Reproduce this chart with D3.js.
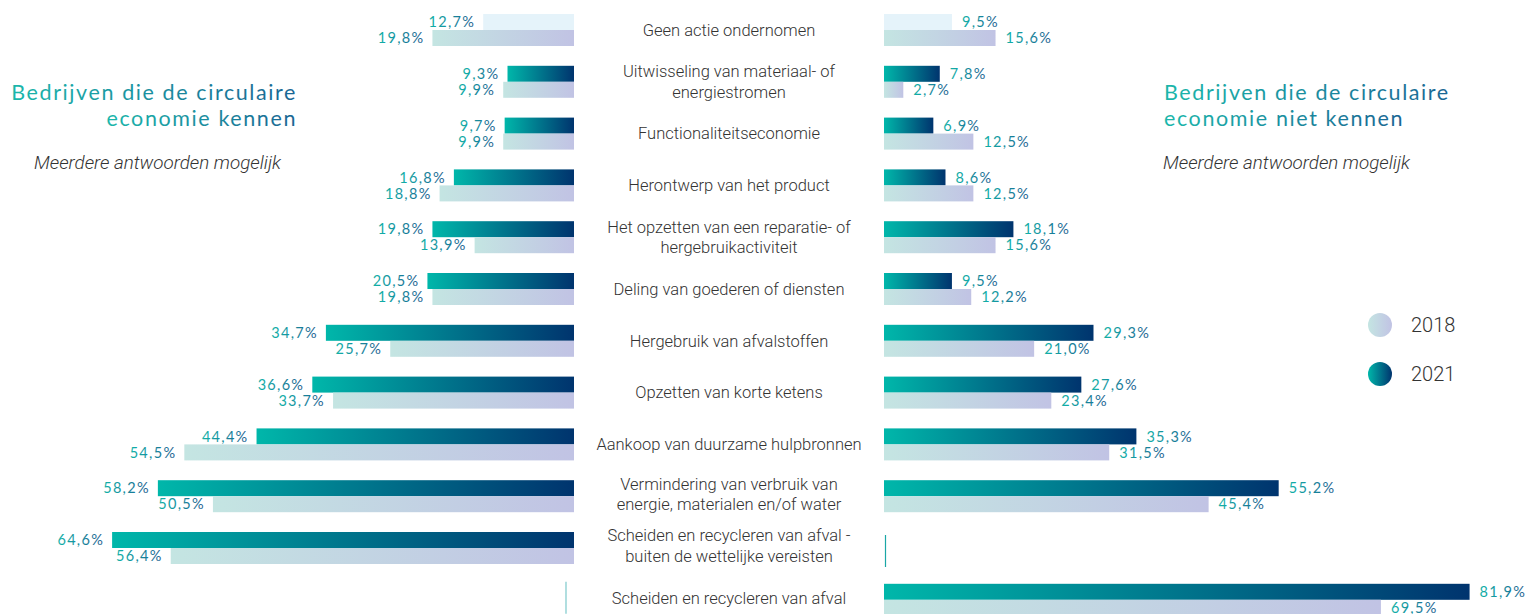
<!DOCTYPE html>
<html>
<head>
<meta charset="utf-8">
<script src="https://cdn.jsdelivr.net/npm/d3@7"></script>
<style>
  body { margin: 0; background: #fff; }
  svg { display: block; }
  .cat { font-family: Roboto, sans-serif; font-weight: 300; font-size: 16.5px; fill: #333; }
  .pct { font-family: Lato, sans-serif; font-size: 14.5px; letter-spacing: 1.3px; }
  .ttl { font-family: Lato, sans-serif; font-weight: 400; font-size: 21.5px; letter-spacing: 1.6px; }
  .sub { font-family: Roboto, sans-serif; font-weight: 300; font-style: italic; font-size: 18.8px; fill: #333; }
  .leg { font-family: Roboto, sans-serif; font-weight: 300; font-size: 20px; fill: #333; }
</style>
</head>
<body>
<svg id="chart"></svg>
<script>
const width = 1526
const height = 614

// data
const categories = [
  ["Geen actie ondernomen"],
  ["Uitwisseling van materiaal- of", "energiestromen"],
  ["Functionaliteitseconomie"],
  ["Herontwerp van het product"],
  ["Het opzetten van een reparatie- of", "hergebruikactiviteit"],
  ["Deling van goederen of diensten"],
  ["Hergebruik van afvalstoffen"],
  ["Opzetten van korte ketens"],
  ["Aankoop van duurzame hulpbronnen"],
  ["Vermindering van verbruik van", "energie, materialen en/of water"],
  ["Scheiden en recycleren van afval -", "buiten de wettelijke vereisten"],
  ["Scheiden en recycleren van afval"]
]
// kennen (links)
const left2021 = [12.7, 9.3, 9.7, 16.8, 19.8, 20.5, 34.7, 36.6, 44.4, 58.2, 64.6, null]
const left2018 = [19.8, 9.9, 9.9, 18.8, 13.9, 19.8, 25.7, 33.7, 54.5, 50.5, 56.4, null]
// niet kennen (rechts)
const right2021 = [9.5, 7.8, 6.9, 8.6, 18.1, 9.5, 29.3, 27.6, 35.3, 55.2, null, 81.9]
const right2018 = [15.6, 2.7, 12.5, 12.5, 15.6, 12.2, 21.0, 23.4, 31.5, 45.4, null, 69.5]
const years = ["2018", "2021"]

const svg = d3.select("#chart").attr("width", width).attr("height", height)
const defs = svg.append("defs")

function grad(id, c1, c2){
  const g = defs.append("linearGradient").attr("id", id)
    .attr("x1", "0%").attr("x2", "100%").attr("y1", "0%").attr("y2", "0%")
  g.append("stop").attr("offset", "0%").attr("stop-color", c1)
  g.append("stop").attr("offset", "100%").attr("stop-color", c2)
}
grad("g2021", "#00b7aa", "#00346e")
grad("g2018", "#c4e5e2", "#c1c3e4")
grad("gtxt", "#12b3a8", "#1c5f90")
grad("gttl", "#1bb7ab", "#1a6694")

const fmt = v => d3.format(".1f")(v).replace(".", ",") + "%"

// schalen
const idx = d3.range(categories.length)
const y = d3.scaleBand().domain(idx).range([14, 14 + 51.8 * categories.length])
const barH = 16
const xL = d3.scaleLinear().domain([0, 100]).range([574, 574 - 715])
const xR = d3.scaleLinear().domain([0, 100]).range([884, 884 + 715])

function side(vals2021, vals2018, x, isLeft){
  const g = svg.append("g")
  const rows = [
    {vals: vals2021, off: 0, fill: "url(#g2021)"},
    {vals: vals2018, off: barH, fill: "url(#g2018)"}
  ]
  rows.forEach(r => {
    const data = r.vals.map((v, i) => ({v, i})).filter(d => d.v !== null)
    g.selectAll(null).data(data).enter().append("rect")
      .attr("x", d => Math.min(x(0), x(d.v)))
      .attr("y", d => y(d.i) + r.off)
      .attr("width", d => Math.abs(x(d.v) - x(0)))
      .attr("height", barH)
      .attr("fill", d => (r.off === 0 && d.i === 0) ? "#e5f3fa" : r.fill)
    g.selectAll(null).data(data).enter().append("text")
      .attr("class", "pct")
      .attr("x", d => isLeft ? x(d.v) - 8 : x(d.v) + 10)
      .attr("y", d => y(d.i) + r.off + barH / 2)
      .attr("dy", "0.36em")
      .attr("text-anchor", isLeft ? "end" : "start")
      .attr("fill", "url(#gtxt)")
      .text(d => fmt(d.v))
  })
  // ontbrekende waarden: dunne lijn
  const missing = idx.filter(i => vals2021[i] === null)
  g.selectAll(null).data(missing).enter().append("line")
    .attr("x1", isLeft ? x(0) - 8 : x(0) + 1.5)
    .attr("x2", isLeft ? x(0) - 8 : x(0) + 1.5)
    .attr("y1", i => y(i) + (isLeft ? -2 : 3))
    .attr("y2", i => y(i) + (isLeft ? 30 : 35))
    .attr("stroke", isLeft ? "#7cc9cc" : "#1aa7a6")
    .attr("stroke-width", 1.2)
}
side(left2021, left2018, xL, true)
side(right2021, right2018, xR, false)

// categorie labels
const cx = 729
const cat = svg.append("g").selectAll("text").data(categories).enter().append("text")
  .attr("class", "cat")
  .attr("text-anchor", "middle")
  .attr("x", cx)
  .attr("y", (d, i) => y(i) + barH + (i >= 9 ? -2 : 0))
cat.selectAll("tspan").data(d => d.map((t, j) => ({t, j, n: d.length}))).enter().append("tspan")
  .attr("x", cx)
  .attr("dy", d => d.j === 0 ? (d.n === 1 ? "0.35em" : (0.35 - 0.63) + "em") : "1.26em")
  .text(d => d.t)

// titels
const titles = [
  {lines: ["Bedrijven die de circulaire", "economie kennen"], x: 297, anchor: "end"},
  {lines: ["Bedrijven die de circulaire", "economie niet kennen"], x: 1164, anchor: "start"}
]
titles.forEach(t => {
  svg.append("g").selectAll("text").data(t.lines).enter().append("text")
    .attr("class", "ttl")
    .attr("x", t.x)
    .attr("y", (d, i) => 100 + i * 26)
    .attr("text-anchor", t.anchor)
    .attr("fill", "url(#gttl)")
    .text(d => d)
  svg.append("text").attr("class", "sub")
    .attr("x", t.anchor === "end" ? 281 : 1163)
    .attr("y", 169)
    .attr("text-anchor", t.anchor)
    .text("Meerdere antwoorden mogelijk")
})

// legenda
const leg = svg.append("g").selectAll("g").data(years).enter().append("g")
  .attr("transform", (d, i) => `translate(1380, ${325 + i * 49})`)
leg.append("circle").attr("r", 12)
  .attr("fill", d => d === "2018" ? "url(#g2018)" : "url(#g2021)")
leg.append("text").attr("class", "leg")
  .attr("x", 31).attr("dy", "0.36em")
  .text(d => d)
</script>
</body>
</html>
